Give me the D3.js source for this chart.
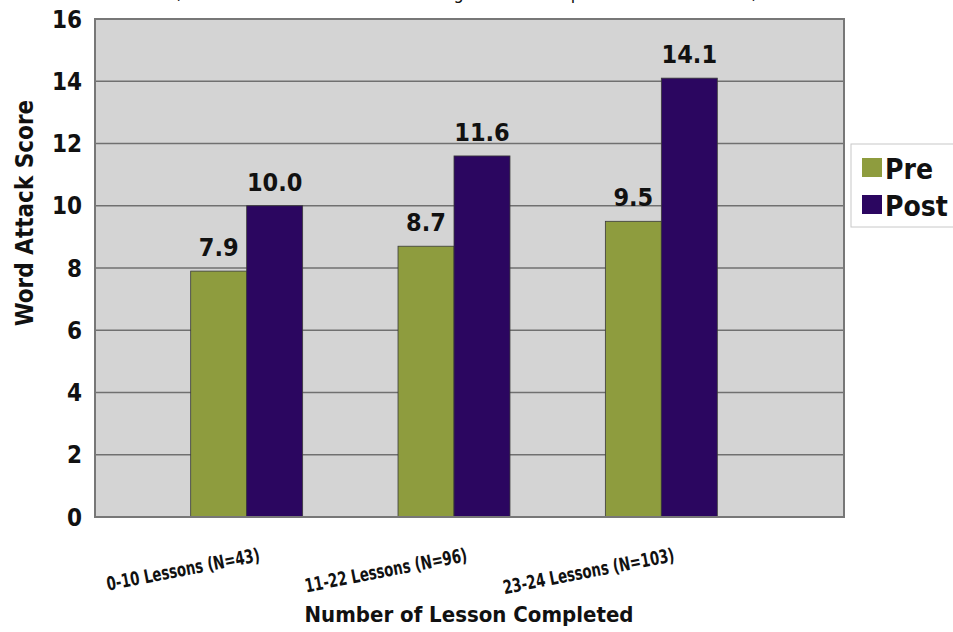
<!DOCTYPE html>
<html>
<head>
<meta charset="utf-8">
<script src="https://cdn.jsdelivr.net/npm/d3@7"></script>
<style>
  body { margin: 0; background: #fff; }
  text { font-family: "DejaVu Sans", sans-serif; font-stretch: condensed; font-weight: bold; fill: #111; }
</style>
</head>
<body>
<script>
//chart data
var categories = ["0-10 Lessons (N=43)", "11-22 Lessons (N=96)", "23-24 Lessons (N=103)"];
var series = ["Pre", "Post"];
var preValues = [7.9, 8.7, 9.5];
var postValues = [10.0, 11.6, 14.1];
var yTicks = [0, 2, 4, 6, 8, 10, 12, 14, 16];
var colors = ["#8e9c3e", "#2b0660"];

window.onload = drawChart();

function drawChart(){
    //svg frame
    var width = 953,
        height = 632;

    var svg = d3.select("body")
        .append("svg")
        .attr("width", width)
        .attr("height", height);

    //plot area edges
    var pLeft = 95, pRight = 844, pTop = 19, pBottom = 517;

    var y = d3.scaleLinear()
        .domain([0, 16])
        .range([pBottom, pTop]);

    var x = d3.scaleBand()
        .domain(categories)
        .range([143, 765])
        .paddingInner(0.46)
        .paddingOuter(0.23);

    var xs = d3.scaleBand()
        .domain(series)
        .range([0, x.bandwidth()]);

    //subtitle, mostly cut off at top of picture
    svg.append("text")
        .attr("x", 466)
        .attr("y", -1)
        .attr("text-anchor", "middle")
        .style("font-size", "18px")
        .style("font-weight", "normal")
        .text("(Students who scored at or above grade level at pretest were excluded)");

    //plot background
    svg.append("rect")
        .attr("x", pLeft)
        .attr("y", pTop)
        .attr("width", pRight - pLeft)
        .attr("height", pBottom - pTop)
        .attr("fill", "#d4d4d4");

    //gridlines
    svg.selectAll(".grid")
        .data(yTicks.slice(1, -1))
        .enter()
        .append("line")
        .attr("class", "grid")
        .attr("x1", pLeft)
        .attr("x2", pRight)
        .attr("y1", function(d){ return y(d); })
        .attr("y2", function(d){ return y(d); })
        .attr("stroke", "#707070")
        .attr("stroke-width", 1.5);

    //bars
    var rows = categories.map(function(c, i){
        return [{cat: c, s: "Pre", v: preValues[i]}, {cat: c, s: "Post", v: postValues[i]}];
    });

    var groups = svg.selectAll(".group")
        .data(rows)
        .enter()
        .append("g")
        .attr("transform", function(d){ return "translate(" + x(d[0].cat) + ",0)"; });

    groups.selectAll("rect")
        .data(function(d){ return d; })
        .enter()
        .append("rect")
        .attr("x", function(d){ return xs(d.s); })
        .attr("y", function(d){ return y(d.v); })
        .attr("width", xs.bandwidth())
        .attr("height", function(d){ return y(0) - y(d.v); })
        .attr("fill", function(d){ return colors[series.indexOf(d.s)]; })
        .attr("stroke", "#3a3a3a")
        .attr("stroke-width", 0.8);

    groups.selectAll(".val")
        .data(function(d){ return d; })
        .enter()
        .append("text")
        .attr("class", "val")
        .attr("x", function(d){ return xs(d.s) + xs.bandwidth() / 2; })
        .attr("y", function(d){ return y(d.v) - 15; })
        .attr("text-anchor", "middle")
        .style("font-size", "25px")
        .text(function(d){ return d.v.toFixed(1); });

    //plot border
    svg.append("rect")
        .attr("x", pLeft)
        .attr("y", pTop)
        .attr("width", pRight - pLeft)
        .attr("height", pBottom - pTop)
        .attr("fill", "none")
        .attr("stroke", "#777")
        .attr("stroke-width", 2);

    //y axis labels
    svg.selectAll(".ytick")
        .data(yTicks)
        .enter()
        .append("text")
        .attr("class", "ytick")
        .attr("x", 82)
        .attr("y", function(d){ return y(d); })
        .attr("dy", "0.36em")
        .attr("text-anchor", "end")
        .style("font-size", "24px")
        .text(function(d){ return d; });

    //x axis labels (rotated, squeezed sideways like the original)
    svg.selectAll(".xtick")
        .data(categories)
        .enter()
        .append("text")
        .attr("class", "xtick")
        .attr("text-anchor", "end")
        .attr("transform", function(d){
            return "translate(" + (x(d) + x.bandwidth() / 2 + 14) + ",561) rotate(-11) scale(0.78,1)";
        })
        .style("font-size", "19px")
        .text(function(d){ return d; });

    //axis titles
    svg.append("text")
        .attr("x", 469)
        .attr("y", 622)
        .attr("text-anchor", "middle")
        .style("font-size", "22px")
        .text("Number of Lesson Completed");

    svg.append("text")
        .attr("transform", "translate(33,213) rotate(-90)")
        .attr("text-anchor", "middle")
        .style("font-size", "24px")
        .text("Word Attack Score");

    //legend
    var legend = svg.append("g");

    legend.append("rect")
        .attr("x", 851)
        .attr("y", 144)
        .attr("width", 110)
        .attr("height", 83)
        .attr("fill", "#fff")
        .attr("stroke", "#c8c8c8")
        .attr("stroke-width", 1);

    var items = legend.selectAll(".item")
        .data(series)
        .enter()
        .append("g")
        .attr("transform", function(d, i){ return "translate(862," + (158 + i * 37) + ")"; });

    items.append("rect")
        .attr("width", 20)
        .attr("height", 19)
        .attr("fill", function(d, i){ return colors[i]; });

    items.append("text")
        .attr("x", 23)
        .attr("y", 21)
        .style("font-size", "28px")
        .text(function(d){ return d; });
}
</script>
</body>
</html>
